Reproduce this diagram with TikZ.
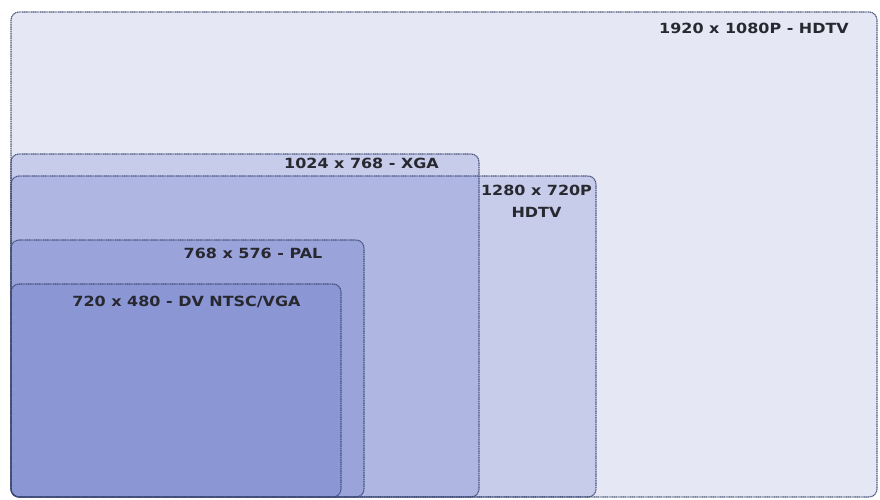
\documentclass[tikz,border=0pt]{standalone}
\usepackage{fontspec}
\setmainfont{DejaVu Sans}
\newfontfamily\lblfont[FakeStretch=1.14]{DejaVu Sans}
\definecolor{fillblue}{RGB}{72,90,190}
\definecolor{edgeblue}{RGB}{58,72,112}
\definecolor{labelgray}{RGB}{40,40,48}
\begin{document}
\begin{tikzpicture}[x=1pt,y=-1pt,
  res/.style={fill=fillblue,fill opacity=#1,draw=edgeblue,draw opacity=0.9,line width=1.1pt,
    dash pattern=on 1.2pt off 0.6pt,rounded corners=8pt},
  lbl/.style={text=labelgray,font=\lblfont\fontsize{14}{16}\selectfont\bfseries,inner sep=0pt,align=center}]
\useasboundingbox (0,0) rectangle (880,500);
\fill[white] (0,0) rectangle (880,500);
% rectangles, largest first
\path[res=0.14] (11,12) rectangle (877,497);
\path[res=0.19] (11,176) rectangle (596,497);
\path[res=0.19] (11,154) rectangle (479,497);
\path[res=0.19] (11,240) rectangle (364,497);
\path[res=0.19] (11,284) rectangle (341,497);
% labels
\node[lbl] (hd1080) at (754,28) {1920 x 1080P - HDTV};
\node[lbl] (xga) at (361.5,163) {1024 x 768 - XGA};
\node[lbl] (hd720) at (536.5,201) {1280 x 720P\\[6pt]HDTV};
\node[lbl] (pal) at (253,253) {768 x 576 - PAL};
\node[lbl] (ntsc) at (186.5,302) {720 x 480 - DV NTSC/VGA};
\end{tikzpicture}
\end{document}
